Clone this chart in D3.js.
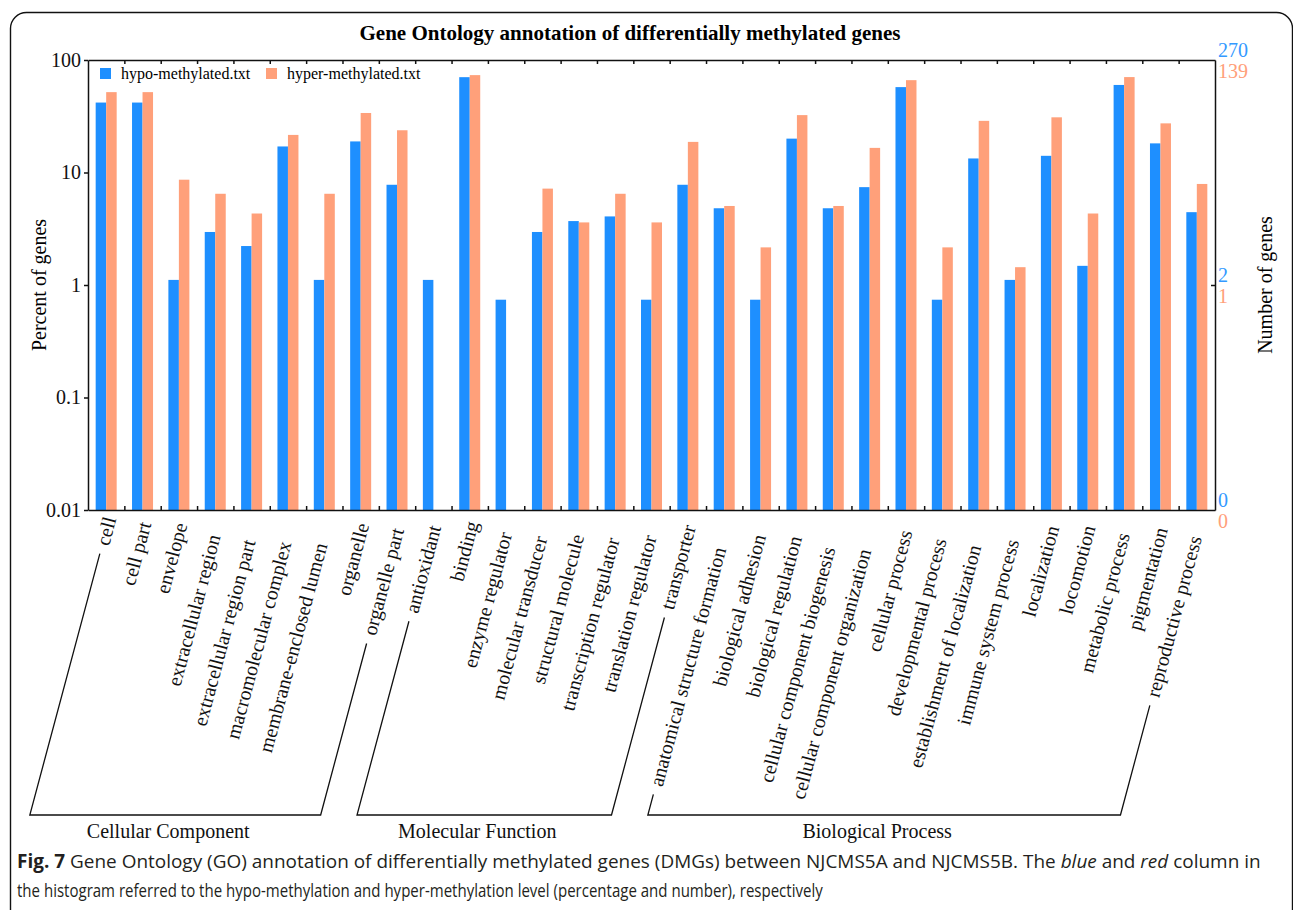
<!DOCTYPE html>
<html><head><meta charset="utf-8">
<script src="https://cdn.jsdelivr.net/npm/d3@7/dist/d3.min.js"></script>
<style>body{margin:0;background:#fff} svg{display:block}</style>
</head><body><svg id="c" width="1293" height="910"></svg>
<script>
const categories = ["cell","cell part","envelope","extracellular region","extracellular region part",
  "macromolecular complex","membrane-enclosed lumen","organelle","organelle part","antioxidant","binding",
  "enzyme regulator","molecular transducer","structural molecule","transcription regulator",
  "translation regulator","transporter","anatomical structure formation","biological adhesion",
  "biological regulation","cellular component biogenesis","cellular component organization",
  "cellular process","developmental process","establishment of localization","immune system process",
  "localization","locomotion","metabolic process","pigmentation","reproductive process"];
const hypoPercent = [41.85,41.85,1.11,2.96,2.22,17.04,1.11,18.89,7.78,1.11,70.37,0.74,2.96,3.70,4.07,
  0.74,7.78,4.81,0.74,20.0,4.81,7.41,57.41,0.74,13.33,1.11,14.07,1.48,60.0,18.15,4.44];
const hyperPercent = [51.80,51.80,8.63,6.47,4.32,21.58,6.47,33.81,23.74,0,73.38,0,7.19,3.60,6.47,
  3.60,18.71,5.04,2.16,32.37,5.04,16.55,66.19,2.16,28.78,1.44,30.94,4.32,70.50,27.34,7.91];
const seriesNames = ["hypo-methylated.txt","hyper-methylated.txt"];
const seriesTotals = [270,139];
const groupNames = ["Cellular Component","Molecular Function","Biological Process"];
const groupFirst = ["cell","antioxidant","anatomical structure formation"];
const groupLast = ["organelle part","transporter","reproductive process"];
const leftTicks = [0.01,0.1,1,10,100];
const rightTicks = [0.01,1,100];
const titleText = "Gene Ontology annotation of differentially methylated genes";
const yTitle = "Percent of genes";
const y2Title = "Number of genes";

const colors = ["#1E8FFF","#FFA07A"];
const rightColors = ["#3399FF","#FFA07A"];
const serif = "'Liberation Serif','Times New Roman',serif";

const svg = d3.select("#c");
// frame
svg.append("rect").attr("x",10.5).attr("y",12.5).attr("width",1282).attr("height",940)
  .attr("rx",16).attr("fill","none").attr("stroke","#111").attr("stroke-width",1.4);

const L=88, R=1215, T=60, B=510;
const y = d3.scaleLog().domain([0.01,100]).range([B,T]);
const x0 = d3.scaleBand().domain(categories).range([L,R]).padding(0);
const bw = x0.bandwidth();
const barW = 10.5;
const x1 = d3.scaleBand().domain([0,1]).range([bw/2-barW, bw/2+barW]).padding(0);
const xLin = d3.scaleLinear().domain([0,categories.length]).range([L,R]);

// title
svg.append("text").attr("x",630).attr("y",40).attr("text-anchor","middle")
  .attr("font-family",serif).attr("font-weight","bold").attr("font-size",21).text(titleText);

// bars
const series = [hypoPercent, hyperPercent];
series.forEach((vals,si)=>{
  svg.append("g").selectAll("rect").data(vals.map((v,i)=>({v,c:categories[i]})).filter(d=>d.v>0))
    .join("rect")
    .attr("x",d=>x0(d.c)+x1(si)).attr("width",x1.bandwidth())
    .attr("y",d=>y(d.v)).attr("height",d=>B-y(d.v)).attr("fill",colors[si]);
});

// axes
const axStyle = g=>{g.selectAll("path,line").attr("stroke","#111").attr("stroke-width",1.5);
  g.selectAll("text").attr("font-family",serif).attr("font-size",20).attr("fill","#111");};
svg.append("g").attr("transform",`translate(${L},0)`)
  .call(d3.axisLeft(y).tickValues(leftTicks).tickSize(4).tickPadding(3).tickSizeOuter(0)
    .tickFormat(d=>d3.format("~g")(d))).call(axStyle);
svg.append("g").attr("transform",`translate(${R},0)`)
  .call(d3.axisRight(y).tickValues([1]).tickSize(-4).tickSizeOuter(0).tickFormat("")).call(axStyle);
const innerB = d3.range(1,categories.length);
svg.append("g").attr("transform",`translate(0,${T})`)
  .call(d3.axisTop(xLin).tickValues(innerB).tickSize(-4).tickSizeOuter(0).tickFormat("")).call(axStyle);
svg.append("g").attr("transform",`translate(0,${B})`)
  .call(d3.axisBottom(xLin).tickValues(innerB).tickSize(-4).tickSizeOuter(0).tickFormat("")).call(axStyle);

// right axis labels
const rl = svg.append("g").attr("font-family",serif).attr("font-size",20);
rightTicks.forEach(t=>{
  seriesTotals.forEach((tot,si)=>{
    rl.append("text").attr("x",R+3).attr("y",y(t)+(si===0?-10:11)).attr("dy","0.35em")
      .attr("fill",rightColors[si]).text(Math.floor(tot*t/100));
  });
});

// axis titles
svg.append("text").attr("transform","translate(46,285) rotate(-90)").attr("text-anchor","middle")
  .attr("font-family",serif).attr("font-size",20).text(yTitle);
svg.append("text").attr("transform","translate(1272,285) rotate(-90)").attr("text-anchor","middle")
  .attr("font-family",serif).attr("font-size",20).text(y2Title);

// legend
const lg = svg.append("g").attr("font-family",serif).attr("font-size",16);
[[100,121],[266,287]].forEach(([sx,tx],si)=>{
  lg.append("rect").attr("x",sx).attr("y",68).attr("width",11).attr("height",11).attr("fill",colors[si]);
  lg.append("text").attr("x",tx).attr("y",79).text(seriesNames[si]);
});

// category labels
const ang = 75, rad = (90-ang)*Math.PI/180;
const AY = 530;
const info = {};
const lab = svg.append("g");
categories.forEach(c=>{
  const cx = x0(c)+bw/2;
  const g = lab.append("g").attr("transform",`translate(${cx},${AY}) rotate(${-ang})`);
  const t = g.append("text").attr("text-anchor","end").attr("dy","0.35em")
    .attr("font-family",serif).attr("font-size",20).attr("fill","#111").text(c);
  const len = t.node().getComputedTextLength();
  const endY = 513 + 0.14*len;
  const tx = -(endY-AY)/Math.cos(rad);
  t.attr("x",tx);
  info[c] = {cx, startT: -tx + len + 9};
});
const ptAt = (c,tt)=>[info[c].cx - tt*Math.sin(rad), AY + tt*Math.cos(rad)];
const BY = 815;
const tB = (BY-AY)/Math.cos(rad);
groupNames.forEach((gn,i)=>{
  const a = groupFirst[i], b = groupLast[i];
  const p = [ptAt(a,info[a].startT), ptAt(a,tB), ptAt(b,tB), ptAt(b,info[b].startT)];
  svg.append("path").attr("d",d3.line()(p)).attr("fill","none").attr("stroke","#111").attr("stroke-width",1.3);
  svg.append("text").attr("x",(p[1][0]+p[2][0])/2-7).attr("y",838).attr("text-anchor","middle")
    .attr("font-family",serif).attr("font-size",20).attr("fill","#111").text(gn);
});

// caption
const cap = "'Open Sans','Noto Sans',sans-serif";
function capLine(yy, width, parts){
  const t = svg.append("text").attr("x",0).attr("y",0).attr("font-family",cap).attr("font-size",19).attr("fill","#231F20");
  parts.forEach(p=>{const s=t.append("tspan").text(p.t); if(p.b) s.attr("font-weight","bold"); if(p.i) s.attr("font-style","italic");});
  const w = t.node().getComputedTextLength();
  t.attr("transform",`translate(17,${yy}) scale(${width/w},1)`);
}
capLine(868,1245,[{t:"Fig. 7",b:1},{t:" Gene Ontology (GO) annotation of differentially methylated genes (DMGs) between NJCMS5A and NJCMS5B. The "},{t:"blue",i:1},{t:" and "},{t:"red",i:1},{t:" column in"}]);
capLine(897,806,[{t:"the histogram referred to the hypo-methylation and hyper-methylation level (percentage and number), respectively"}]);
</script></body></html>
